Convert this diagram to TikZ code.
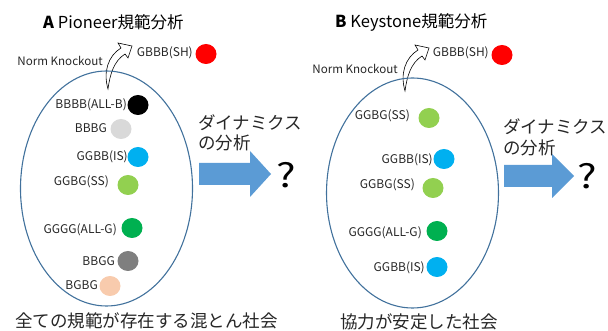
\documentclass[tikz,border=0pt]{standalone}
\usepackage{fontspec}
\setmainfont{Noto Sans CJK JP}
\usetikzlibrary{shapes.geometric}
\definecolor{cred}{HTML}{FF0000}
\definecolor{cblack}{HTML}{000000}
\definecolor{clgray}{HTML}{D9D9D9}
\definecolor{ccyan}{HTML}{00B0F0}
\definecolor{clgreen}{HTML}{92D050}
\definecolor{cgreen}{HTML}{00B050}
\definecolor{cgray}{HTML}{7F7F7F}
\definecolor{cpeach}{HTML}{F8CBAD}
\definecolor{cblue}{HTML}{5B9BD5}
\definecolor{cedge}{HTML}{41719C}
\tikzset{
  dot/.style={ellipse, minimum width=21pt, minimum height=20pt, inner sep=0pt},
  lab/.style={anchor=east, inner sep=0pt, font=\fontsize{12}{13}\selectfont, text=black!85},
  title/.style={anchor=west, inner sep=0pt, font=\fontsize{16.5}{18}\selectfont},
  jp/.style={anchor=west, inner sep=0pt, font=\fontsize{17.5}{19}\selectfont, text=black!85},
  society/.style={ellipse, draw=cedge, line width=1.1pt, inner sep=0pt},
  knock/.style={draw=black, fill=white, line width=0.6pt, line join=miter},
  blockarrow/.style={fill=cblue},
  qmark/.style={inner sep=0pt, font=\fontsize{33}{36}\selectfont},
  nk/.style={anchor=east, inner sep=0pt, font=\fontsize{11.6}{12}\selectfont, text=black!85}
}
\begin{document}
\begin{tikzpicture}[x=1pt,y=-1pt]
\useasboundingbox (0,0) rectangle (608,331);
% ---------------- Panel A ----------------
\node[title] (tA) at (43,22) {\textbf{A} Pioneer規範分析};
\node[nk] (nkA) at (103,61) {Norm Knockout};
\draw[knock] (108,89) .. controls (103,72) and (108,56) .. (121,48) -- (118,43) -- (132,46) -- (128,58) -- (125,54) .. controls (114,61) and (110,74) .. (108,89) -- cycle;
\node[society, minimum width=172pt, minimum height=235pt] (eA) at (106.5,188.5) {};
\node[lab] (lA0) at (193,53) {GBBB(SH)};
\node[dot, fill=cred] (cA0) at (206,54) {};
\node[lab] (lA1) at (127,105) {BBBB(ALL-B)};
\node[dot, fill=cblack] (cA1) at (138,105) {};
\node[lab] (lA2) at (107,128) {BBBG};
\node[dot, fill=clgray] (cA2) at (121,129) {};
\node[lab] (lA3) at (128,157) {GGBB(IS)};
\node[dot, fill=ccyan] (cA3) at (138,157) {};
\node[lab] (lA4) at (109,182) {GGBG(SS)};
\node[dot, fill=clgreen] (cA4) at (128,185) {};
\node[lab] (lA5) at (117,230) {GGGG(ALL-G)};
\node[dot, fill=cgreen] (cA5) at (132,228) {};
\node[lab] (lA6) at (115,261) {BBGG};
\node[dot, fill=cgray] (cA6) at (128,261) {};
\node[lab] (lA7) at (98,285) {BGBG};
\node[dot, fill=cpeach] (cA7) at (110,286) {};
\node[jp] (dA1) at (198,123) {ダイナミクス};
\node[jp] (dA2) at (198,143) {の分析};
\fill[blockarrow] (199,163) -- (250,163) -- (250,151) -- (271,174) -- (250,197) -- (250,185) -- (199,185) -- cycle;
\node[qmark] (qA) at (286,175) {\scalebox{1.25}[1]{?}};
\node[jp] (bA) at (15,321) {全ての規範が存在する混とん社会};
% ---------------- Panel B ----------------
\node[title] (tB) at (335,22) {\textbf{B} Keystone規範分析};
\node[nk] (nkB) at (398,69) {Norm Knockout};
\begin{scope}[shift={(297,2)}]
\draw[knock] (108,89) .. controls (103,72) and (108,56) .. (121,48) -- (118,43) -- (132,46) -- (128,58) -- (125,54) .. controls (114,61) and (110,74) .. (108,89) -- cycle;
\end{scope}
\node[society, minimum width=172pt, minimum height=230pt] (eB) at (412.5,193) {};
\node[lab] (lB0) at (489,53) {GBBB(SH)};
\node[dot, fill=cred] (cB0) at (502,55) {};
\node[lab] (lB1) at (410,116) {GGBG(SS)};
\node[dot, fill=clgreen] (cB1) at (429,118) {};
\node[lab] (lB2) at (433,160) {GGBB(IS)};
\node[dot, fill=ccyan] (cB2) at (444,159) {};
\node[lab] (lB3) at (415,185) {GGBG(SS)};
\node[dot, fill=clgreen] (cB3) at (433,188) {};
\node[lab] (lB4) at (422,233) {GGGG(ALL-G)};
\node[dot, fill=cgreen] (cB4) at (437,231) {};
\node[lab] (lB5) at (425,268) {GGBB(IS)};
\node[dot, fill=ccyan] (cB5) at (437,267) {};
\node[jp] (dB1) at (503,127) {ダイナミクス};
\node[jp] (dB2) at (503,148) {の分析};
\fill[blockarrow] (504,165) -- (552,165) -- (552,154) -- (574,176) -- (552,198) -- (552,187) -- (504,187) -- cycle;
\node[qmark] (qB) at (587,176) {\scalebox{1.25}[1]{?}};
\node[jp] (bB) at (340,322) {協力が安定した社会};
\end{tikzpicture}
\end{document}
